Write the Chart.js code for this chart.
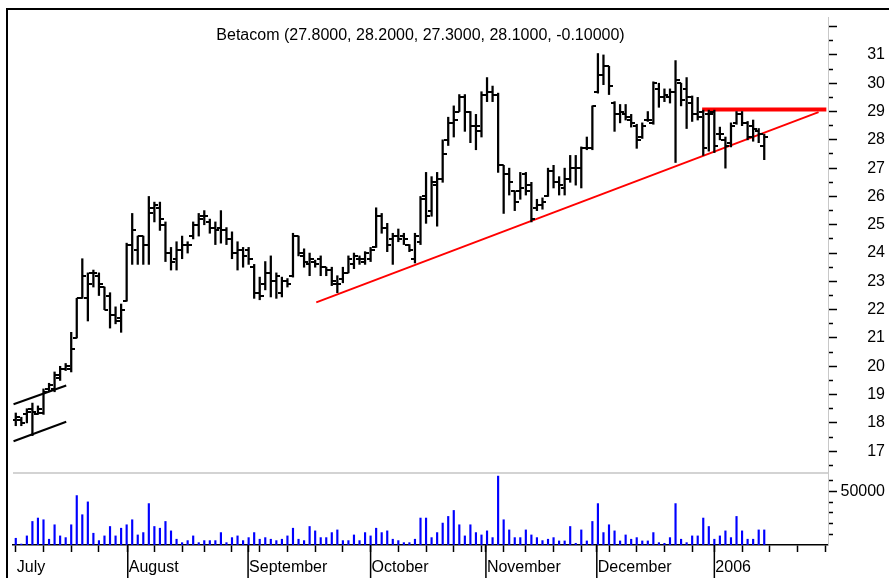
<!DOCTYPE html>
<html>
<head>
<meta charset="utf-8">
<script src="https://cdn.jsdelivr.net/npm/chart.js@4.4.0/dist/chart.umd.min.js"></script>
<style>
  html, body { margin: 0; padding: 0; background: #fff; }
  #wrap { position: relative; width: 889px; height: 578px; overflow: hidden; }
  #frame { position: absolute; left: 6px; top: 8px; width: 1000px; height: 700px;
           border-top: 2px solid #000; border-left: 2px solid #000; }
  #chart { position: absolute; left: 0; top: 0; }
</style>
</head>
<body>
<div id="wrap">
  <div id="frame"></div>
  <canvas id="chart" width="889" height="578"></canvas>
</div>
<script>
// daily bars, index 0 = first trading day of July 2005
const opens = [
  18.1, 18.1, 18.3, 18.5, 18.3, 18.35, 19.2, 19.2, 19.6, 19.9,
  19.9, 21.0, 22.4, 22.4, 23.3, 23.2, 22.8, 22.5, 21.8, 21.7,
  22.3, 24.3, 24.1, 24.6, 24.3, 25.6, 25.6, 25.0, 24.0, 23.8,
  24.1, 24.3, 24.6, 25.0, 25.3, 25.1, 24.9, 24.9, 24.8, 24.5,
  24.0, 24.1, 24.1, 23.5, 22.6, 22.9, 23.3, 23.0, 22.6, 23.0,
  23.2, 24.6, 23.9, 23.6, 23.7, 23.8, 23.5, 23.4, 22.9, 23.1,
  23.3, 23.6, 23.8, 23.7, 23.8, 24.2, 25.3, 24.9, 24.5, 24.6,
  24.6, 24.3, 23.8, 24.4, 26.0, 25.5, 26.4, 26.6, 28.0, 28.6,
  29.0, 29.5, 29.0, 28.5, 28.3, 29.6, 29.7, 29.6, 27.1, 26.8,
  26.2, 26.2, 26.8, 26.4, 25.6, 25.7, 26.0, 26.9, 26.5, 26.3,
  26.6, 27.0, 27.0, 27.7, 27.7, 29.7, 30.3, 30.6, 29.3, 28.9,
  28.9, 28.7, 28.5, 28.1, 28.7, 28.6, 29.8, 29.5, 29.5, 29.7,
  30.0, 29.8, 29.3, 28.9, 29.0, 28.9, 29.0, 28.2, 28.0, 27.9,
  28.6, 28.9, 28.6, 28.5, 28.3, 27.8
];
const highs = [
  18.35, 18.2, 18.5, 18.7, 18.6, 19.2, 19.4, 19.8, 20.0, 20.1,
  21.2, 22.4, 23.8, 23.3, 23.4, 23.3, 22.8, 22.6, 22.1, 22.2,
  24.35, 25.4, 24.6, 24.6, 26.0, 25.8, 25.8, 25.1, 24.2, 24.4,
  24.6, 24.4, 25.1, 25.4, 25.5, 25.2, 25.1, 25.5, 24.9, 24.75,
  24.4, 24.2, 24.2, 23.6, 23.15, 23.7, 23.9, 23.3, 23.15, 23.1,
  24.7, 24.6, 24.15, 24.0, 23.75, 23.9, 23.5, 23.5, 23.2, 23.5,
  23.9, 24.0, 23.9, 24.05, 24.2, 25.6, 25.4, 25.05, 24.7, 24.85,
  24.7, 24.3, 24.7, 26.0, 26.85, 26.7, 26.85, 28.0, 28.8, 29.2,
  29.6, 29.6, 29.0, 28.9, 29.7, 30.2, 29.9, 29.65, 27.1, 27.0,
  26.2, 26.85, 26.85, 26.5, 25.9, 25.95, 27.0, 27.1, 26.7, 27.0,
  27.45, 27.45, 27.75, 28.1, 29.2, 31.05, 31.0, 30.6, 29.35, 29.25,
  29.25, 28.9, 28.55, 28.6, 29.0, 30.05, 30.0, 29.8, 29.8, 30.8,
  30.0, 30.2, 29.55, 29.5, 29.05, 29.05, 29.05, 28.45, 28.1, 28.6,
  29.0, 29.0, 28.65, 28.7, 28.4, 28.2
];
const lows = [
  17.9, 17.9, 18.0, 17.55, 18.3, 18.3, 19.1, 19.1, 19.5, 19.85,
  19.8, 21.0, 22.4, 21.6, 22.8, 22.5, 22.0, 21.35, 21.5, 21.2,
  22.3, 23.6, 23.6, 23.6, 23.6, 25.1, 24.8, 23.7, 23.4, 23.4,
  23.8, 24.0, 24.5, 24.6, 25.0, 24.7, 24.3, 24.35, 24.3, 23.8,
  23.4, 23.5, 23.6, 22.4, 22.35, 22.7, 22.45, 22.4, 22.45, 22.8,
  23.15, 23.9, 23.5, 23.2, 23.5, 23.2, 23.2, 22.85, 22.6, 22.95,
  23.3, 23.45, 23.6, 23.6, 23.7, 24.2, 24.7, 24.05, 23.6, 24.4,
  24.3, 24.05, 23.65, 24.3, 25.05, 25.3, 24.95, 26.5, 27.8, 28.1,
  29.0, 28.3, 27.9, 27.65, 28.1, 29.35, 29.35, 26.85, 25.4, 26.05,
  25.5, 25.9, 26.05, 25.1, 25.5, 25.55, 26.0, 26.3, 26.05, 26.05,
  26.5, 26.4, 26.3, 27.65, 27.65, 29.65, 29.95, 29.6, 28.3, 28.6,
  28.7, 28.45, 27.7, 28.05, 28.65, 28.55, 29.15, 29.35, 29.3, 27.2,
  29.2, 28.4, 28.65, 28.7, 27.45, 27.6, 27.55, 28.0, 27.0, 27.75,
  28.55, 28.5, 28.0, 27.95, 27.9, 27.3
];
const closes = [
  18.2, 18.0, 18.4, 18.4, 18.5, 19.1, 19.35, 19.7, 19.9, 20.0,
  20.6, 22.4, 23.2, 22.9, 23.3, 22.9, 22.0, 21.8, 21.6, 22.0,
  24.3, 24.8, 24.6, 24.3, 25.4, 25.7, 25.2, 24.0, 23.7, 24.1,
  24.3, 24.3, 25.0, 25.2, 25.3, 24.9, 24.8, 24.8, 24.5, 24.0,
  24.1, 23.9, 23.8, 22.6, 22.5, 23.3, 23.0, 23.2, 23.0, 22.9,
  24.6, 24.0, 23.7, 23.8, 23.6, 23.5, 23.4, 23.0, 22.9, 23.3,
  23.8, 23.9, 23.8, 24.0, 24.1, 25.3, 24.9, 24.3, 24.6, 24.5,
  24.5, 24.1, 24.6, 25.9, 25.3, 26.5, 26.6, 27.5, 28.6, 28.7,
  29.5, 29.0, 28.5, 28.5, 29.6, 29.7, 29.6, 27.1, 26.8, 26.5,
  25.8, 26.3, 26.2, 25.2, 25.7, 25.8, 26.9, 26.5, 26.4, 26.6,
  27.0, 27.0, 27.7, 27.7, 29.2, 30.3, 30.6, 29.9, 28.9, 29.0,
  28.8, 28.6, 28.0, 28.5, 28.7, 30.0, 29.5, 29.6, 29.7, 30.1,
  29.4, 29.5, 28.9, 28.8, 27.7, 28.9, 27.8, 28.2, 27.8, 28.5,
  28.9, 28.6, 28.1, 28.4, 28.2, 28.1
];
const volumes = [
  6300, 900, 8500, 22000, 25200, 23600, 5400, 18900, 8500, 6900,
  18900, 46200, 28300, 40300, 11000, 4100, 8500, 17300, 8500, 15700,
  18900, 23600, 9400, 11600, 38700, 17300, 15700, 22000, 13200, 5400,
  2200, 4100, 8500, 2200, 4100, 4100, 4100, 11600, 2200, 6900,
  8500, 4100, 6900, 11600, 5400, 6900, 5400, 4100, 5400, 8500,
  15700, 5400, 4100, 17300, 13200, 6900, 6900, 11600, 14100, 4100,
  4100, 9400, 4100, 11600, 8500, 15700, 11600, 13200, 5400, 4100,
  2200, 2200, 5400, 25200, 25200, 6900, 11600, 20500, 26700, 32300,
  18900, 8500, 18900, 11600, 9400, 13200, 6900, 64400, 23600, 14100,
  6900, 6900, 14100, 9400, 6900, 4100, 5400, 6900, 3800, 3800,
  17300, 1600, 14100, 3800, 22000, 38700, 11600, 18900, 13200, 3800,
  9400, 5400, 6900, 3800, 3800, 11600, 2200, 1600, 6900, 38700,
  5400, 2200, 8500, 8500, 25200, 17300, 5400, 8500, 13200, 6900,
  26700, 13200, 5400, 5400, 14100, 14100
];

// drawn lines (bar index, price)
const supportX = [54.2, 144.8];
const supportY = [22.26, 28.98];
const resistX = [123.8, 146.2];
const resistY = [29.07, 29.07];
const channelTopX = [-0.4, 9.1];
const channelTopY = [18.66, 19.32];
const channelBotX = [-0.4, 9.1];
const channelBotY = [17.35, 18.04];

// axis ticks
const weekTicks = [0, 5, 10, 15, 25, 30, 34, 39, 44, 49, 54, 59, 69, 74, 79, 84,
                   88, 92, 97, 102, 107, 112, 117, 122, 131, 136, 141, 146];
const monthTicks = [0, 20.2, 41.9, 64, 84.8, 104.8, 126];
const monthLabels = ['July', 'August', 'September', 'October', 'November', 'December', '2006'];
const priceTicks = [];
for (let v = 16.5; v <= 32; v += 0.5) priceTicks.push(v);
const volumeTicks = [10000, 20000, 30000, 40000, 50000, 60000];

const n = closes.length;
const idx = closes.map((c, i) => i);
const xTicks = Array.from(new Set(weekTicks.concat(monthTicks))).sort((a, b) => a - b);

function tickImage(side) {
    const c = document.createElement('canvas');
    c.width = 8;
    c.height = 2;
    const g = c.getContext('2d');
    g.fillStyle = '#000';
    g.fillRect(side === 'left' ? 0 : 4, 0, 4, 2);
    return c;
}

const pts = (xs, ys) => xs.map((x, i) => ({x: x, y: ys[i]}));

const chg = closes[n - 1] - closes[n - 2];
const titleText = 'Betacom (' + opens[n - 1].toFixed(4) + ', ' + highs[n - 1].toFixed(4) + ', ' +
    lows[n - 1].toFixed(4) + ', ' + closes[n - 1].toFixed(4) + ', ' + chg.toFixed(5) + ')';

// no extra label padding around the plot, sizes are fixed
function fixPadding(axis) {
    axis.paddingTop = 0;
    axis.paddingBottom = 0;
    axis.paddingLeft = 0;
    axis.paddingRight = 0;
}

const extras = {
    id: 'extras',
    beforeDatasetsDraw(chart) {
        const {ctx, chartArea, scales} = chart;
        // separator between price and volume panes
        const ySep = scales.yv.getPixelForValue(scales.yv.max);
        ctx.save();
        ctx.strokeStyle = '#c4c4c4';
        ctx.lineWidth = 1.5;
        ctx.beginPath();
        ctx.moveTo(chartArea.left, ySep);
        ctx.lineTo(chartArea.right, ySep);
        ctx.stroke();
        ctx.restore();
    },
    afterDraw(chart) {
        const {ctx, chartArea, scales} = chart;
        ctx.save();
        // long month separators under the time axis
        ctx.strokeStyle = '#000';
        ctx.lineWidth = 1.5;
        monthTicks.slice(1).forEach(v => {
            const x = scales.x.getPixelForValue(v);
            ctx.beginPath();
            ctx.moveTo(x, scales.x.top);
            ctx.lineTo(x, chart.height);
            ctx.stroke();
        });
        // title
        ctx.fillStyle = '#000';
        ctx.font = '16px "Liberation Sans", Arial, sans-serif';
        ctx.textAlign = 'center';
        ctx.textBaseline = 'middle';
        ctx.fillText(titleText, (chartArea.left + chartArea.right) / 2, chartArea.top + 19);
        ctx.restore();
    }
};

Chart.defaults.font.family = '"Liberation Sans", Arial, sans-serif';
Chart.defaults.font.size = 16;
Chart.defaults.color = '#000';

const ctx = document.getElementById('chart').getContext('2d');
new Chart(ctx, {
    type: 'bar',
    data: {
        datasets: [
            {
                type: 'bar',
                data: idx.map(i => ({x: i, y: [lows[i], highs[i]]})),
                backgroundColor: '#000',
                barThickness: 1.6,
                grouped: false,
                xAxisID: 'x',
                yAxisID: 'y'
            },
            {
                type: 'line',
                data: idx.map(i => ({x: i, y: opens[i]})),
                showLine: false,
                pointStyle: tickImage('left'),
                pointRadius: 3,
                xAxisID: 'x',
                yAxisID: 'y'
            },
            {
                type: 'line',
                data: idx.map(i => ({x: i, y: closes[i]})),
                showLine: false,
                pointStyle: tickImage('right'),
                pointRadius: 3,
                xAxisID: 'x',
                yAxisID: 'y'
            },
            {
                type: 'bar',
                data: idx.map(i => ({x: i, y: volumes[i]})),
                backgroundColor: '#0000ff',
                barThickness: 1.5,
                grouped: false,
                xAxisID: 'x',
                yAxisID: 'yv'
            },
            {
                type: 'line',
                data: pts(supportX, supportY),
                borderColor: '#ff0000',
                borderWidth: 2,
                pointRadius: 0,
                yAxisID: 'y'
            },
            {
                type: 'line',
                data: pts(resistX, resistY),
                borderColor: '#ff0000',
                borderWidth: 4,
                pointRadius: 0,
                yAxisID: 'y'
            },
            {
                type: 'line',
                data: pts(channelTopX, channelTopY),
                borderColor: '#000',
                borderWidth: 2,
                pointRadius: 0,
                yAxisID: 'y'
            },
            {
                type: 'line',
                data: pts(channelBotX, channelBotY),
                borderColor: '#000',
                borderWidth: 2,
                pointRadius: 0,
                yAxisID: 'y'
            }
        ]
    },
    options: {
        responsive: false,
        animation: false,
        events: [],
        layout: {
            padding: {left: 13, top: 17, right: 4, bottom: 0}
        },
        scales: {
            x: {
                type: 'linear',
                position: 'bottom',
                offset: false,
                min: -0.5,
                max: 146.5,
                afterBuildTicks: axis => { axis.ticks = xTicks.map(v => ({value: v})); },
                afterFit: axis => { axis.height = 33; fixPadding(axis); },
                border: {color: '#000', width: 1.5},
                grid: {
                    offset: false,
                    drawOnChartArea: false,
                    tickLength: 7,
                    tickColor: '#000',
                    tickWidth: 1.5
                },
                ticks: {
                    autoSkip: false,
                    maxRotation: 0,
                    align: 'start',
                    labelOffset: 1,
                    padding: 6,
                    callback: v => {
                        const k = monthTicks.indexOf(v);
                        return k >= 0 ? monthLabels[k] : '';
                    }
                }
            },
            y: {
                type: 'linear',
                position: 'right',
                stack: 'panes',
                stackWeight: 456,
                min: 16.23,
                max: 32.34,
                afterBuildTicks: axis => { axis.ticks = priceTicks.map(v => ({value: v})); },
                afterFit: axis => { axis.width = 57; fixPadding(axis); },
                border: {color: '#c8c8c8', width: 1},
                grid: {
                    drawOnChartArea: false,
                    tickLength: 9,
                    tickColor: '#000',
                    tickWidth: 1.5,
                    tickBorderDash: c => Number.isInteger(c.tick.value) ? [] : [4, 30]
                },
                ticks: {
                    autoSkip: false,
                    crossAlign: 'far',
                    callback: v => (Number.isInteger(v) && v >= 17 && v <= 31) ? String(v) : ''
                }
            },
            yv: {
                type: 'linear',
                position: 'right',
                stack: 'panes',
                stackWeight: 72,
                min: 0,
                max: 67300,
                afterBuildTicks: axis => { axis.ticks = volumeTicks.map(v => ({value: v})); },
                afterFit: axis => { axis.width = 57; fixPadding(axis); },
                border: {color: '#c8c8c8', width: 1},
                grid: {
                    drawOnChartArea: false,
                    tickLength: 9,
                    tickColor: '#000',
                    tickWidth: 1.5,
                    tickBorderDash: c => c.tick.value === 50000 ? [] : [4, 30]
                },
                ticks: {
                    autoSkip: false,
                    crossAlign: 'far',
                    callback: v => v === 50000 ? '50000' : ''
                }
            }
        },
        plugins: {
            legend: {display: false},
            tooltip: {enabled: false}
        }
    },
    plugins: [extras]
});
</script>
</body>
</html>
